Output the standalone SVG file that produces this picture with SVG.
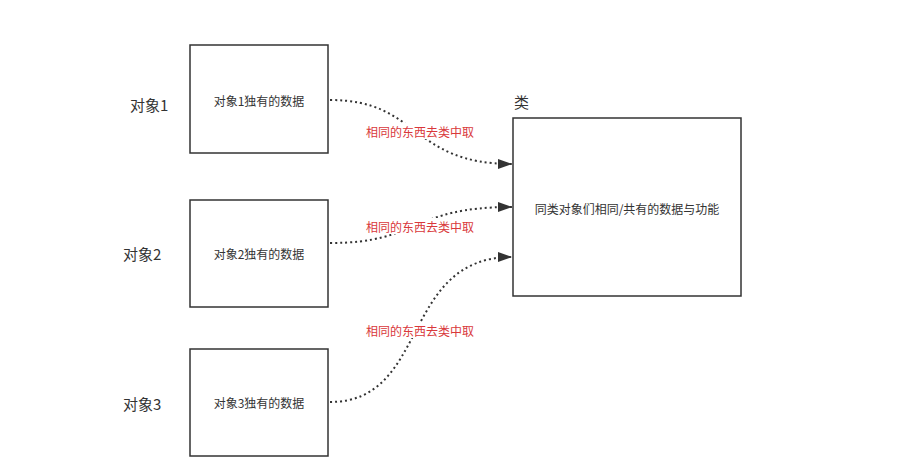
<svg xmlns="http://www.w3.org/2000/svg" width="905" height="470" viewBox="0 0 905 470">
<style>
text{font-family:"Noto Sans CJK SC","Microsoft YaHei",sans-serif;}
.box{fill:#fff;stroke:#333;stroke-width:1.5;}
.t{font-size:12px;fill:#333;text-anchor:middle;dominant-baseline:central;}
.n{font-size:15px;fill:#333;dominant-baseline:central;}
.lbl{font-size:12px;fill:#d9383b;text-anchor:middle;dominant-baseline:central;}
.c{fill:none;stroke:#333;stroke-width:2;stroke-dasharray:2 3;}
</style>
<defs>
<marker id="ah" viewBox="0 0 14 10" refX="14" refY="5" markerWidth="14" markerHeight="10" markerUnits="userSpaceOnUse" orient="auto">
<path d="M0,0 L14,5 L0,10 Z" fill="#333"/>
</marker>
</defs>
<rect width="905" height="470" fill="#fff"/>
<g id="connectors">
<path class="c" d="M330,100 C420,100 410,164 512,164" marker-end="url(#ah)"/>
<path class="c" d="M330,243 C420,243 410,207 512,207" marker-end="url(#ah)"/>
<path class="c" d="M330,402 C430,402 400,257 512,257" marker-end="url(#ah)"/>
<rect x="364" y="123" width="112" height="16" fill="#fff"/>
<text class="lbl" x="420" y="131">相同的东西去类中取</text>
<rect x="364" y="218" width="112" height="16" fill="#fff"/>
<text class="lbl" x="420" y="226">相同的东西去类中取</text>
<rect x="364" y="322" width="112" height="16" fill="#fff"/>
<text class="lbl" x="420" y="330">相同的东西去类中取</text>
</g>
<g id="obj1">
<text class="n" x="130" y="104">对象1</text>
<rect class="box" x="190" y="45" width="138" height="108"/>
<text class="t" x="259" y="100">对象1独有的数据</text>
</g>
<g id="obj2">
<text class="n" x="123" y="253">对象2</text>
<rect class="box" x="190" y="200" width="138" height="107"/>
<text class="t" x="259" y="253">对象2独有的数据</text>
</g>
<g id="obj3">
<text class="n" x="123" y="403">对象3</text>
<rect class="box" x="190" y="349" width="138" height="107"/>
<text class="t" x="259" y="402">对象3独有的数据</text>
</g>
<g id="cls">
<text class="n" x="514" y="101">类</text>
<rect class="box" x="513" y="118" width="228" height="178"/>
<text class="t" x="627" y="208">同类对象们相同/共有的数据与功能</text>
</g>
</svg>
